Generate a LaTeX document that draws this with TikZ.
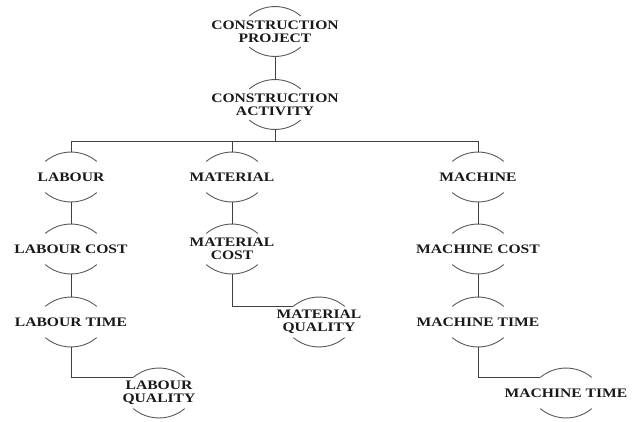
\documentclass[tikz,border=0pt]{standalone}
\usepackage{fontspec}
\setmainfont[FakeStretch=1.2]{Liberation Serif}
\tikzset{
  lbl/.style={font=\bfseries\fontsize{13}{13}\selectfont, align=center, inner sep=0pt, text=black!90},
  arcln/.style={draw=black!65, line width=0.9pt},
  conn/.style={draw=black!75, line width=1pt}
}
\newcommand\hnode[4]{%
  \node[lbl] (#1) at (#2,-#3) {#4};
  \coordinate (#1-t) at (#2,{-#3+25});
  \coordinate (#1-b) at (#2,{-#3-25});
  \coordinate (#1-l) at ({#2-25.7},{-#3+15.6});
  \coordinate (#1-bl) at ({#2-25.7},{-#3-15.6});
  \draw[arcln] (#1-l) arc[start angle=130, end angle=50, radius=40pt];
  \draw[arcln] (#1-bl) arc[start angle=230, end angle=310, radius=40pt];
}
\begin{document}
\begin{tikzpicture}[x=1pt,y=1pt]
\useasboundingbox (0,0) rectangle (637,-421);
\hnode{CP}{275}{31.5}{CONSTRUCTION\\PROJECT}
\hnode{CA}{275}{104.5}{CONSTRUCTION\\ACTIVITY}
\hnode{LAB}{71}{177}{LABOUR}
\hnode{MAT}{232}{177}{MATERIAL}
\hnode{MAC}{478}{177}{MACHINE}
\hnode{LC}{71}{249}{LABOUR COST}
\hnode{MC}{232}{249}{MATERIAL\\COST}
\hnode{MCC}{478}{249}{MACHINE COST}
\hnode{LT}{71}{322}{LABOUR TIME}
\hnode{MQ}{319}{322}{MATERIAL\\QUALITY}
\hnode{MCT}{478}{322}{MACHINE TIME}
\hnode{LQ}{159}{393}{LABOUR\\QUALITY}
\hnode{MT}{566}{393}{MACHINE TIME}
\coordinate (bar) at (0,-141);
\draw[conn] (CP-b) -- (CA-t);
\draw[conn] (CA-b) -- (CA-b |- bar);
\draw[conn] (LAB-t) -- (LAB-t |- bar) -- (MAC-t |- bar) -- (MAC-t);
\draw[conn] (MAT-t) -- (MAT-t |- bar);
\draw[conn] (LAB-b) -- (LC-t);
\draw[conn] (LC-b) -- (LT-t);
\draw[conn] (LT-b) |- (LQ-l);
\draw[conn] (MAT-b) -- (MC-t);
\draw[conn] (MC-b) |- (MQ-l);
\draw[conn] (MAC-b) -- (MCC-t);
\draw[conn] (MCC-b) -- (MCT-t);
\draw[conn] (MCT-b) |- (MT-l);
\end{tikzpicture}
\end{document}
